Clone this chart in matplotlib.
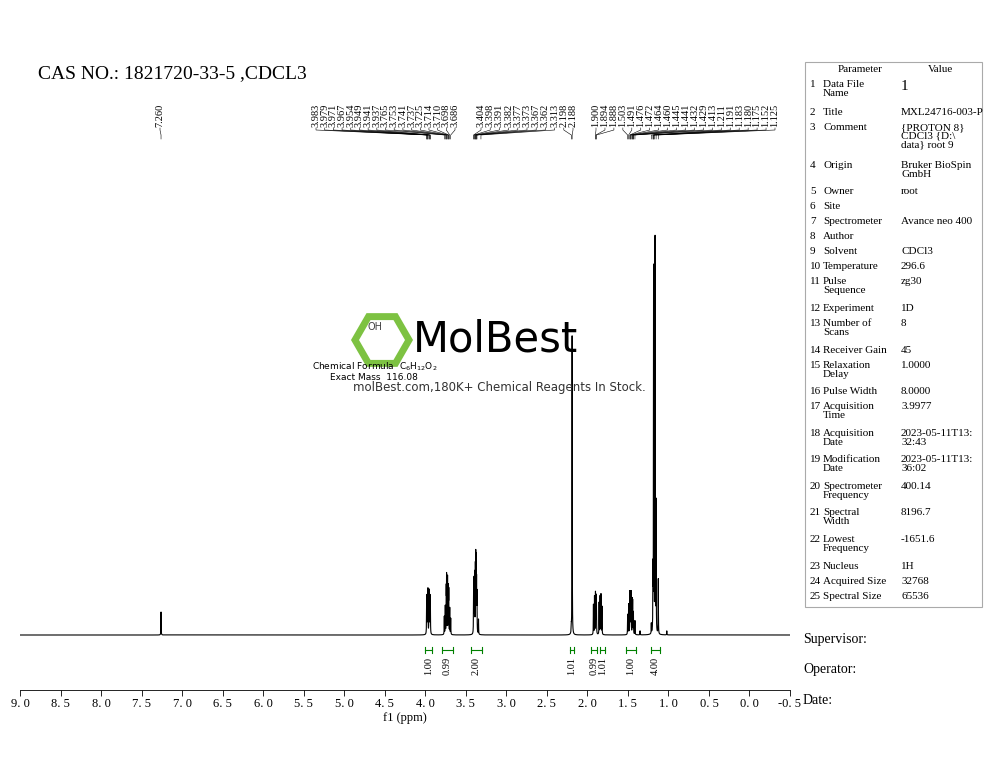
import numpy as np
import matplotlib.pyplot as plt
from matplotlib.patches import RegularPolygon, Rectangle

plt.rcParams['font.family'] = ['Liberation Serif', 'DejaVu Serif']

# peak lines (ppm, height in px above baseline)
line_ppm = [7.260,
            3.983, 3.979, 3.971, 3.967, 3.954, 3.949, 3.941, 3.937,
            3.765, 3.753, 3.741, 3.737, 3.725, 3.714, 3.710, 3.698, 3.686,
            3.404, 3.398, 3.391, 3.382, 3.377, 3.373, 3.367, 3.362, 3.343,
            2.198, 2.188,
            1.925, 1.912, 1.900, 1.894, 1.888, 1.855, 1.843, 1.832, 1.820,
            1.503, 1.491, 1.476, 1.472, 1.464, 1.460, 1.445, 1.441, 1.432, 1.413,
            1.350, 1.211, 1.191, 1.183, 1.180, 1.175, 1.165, 1.152, 1.125, 1.020]
line_h = [23,
          30, 34, 38, 40, 38, 40, 34, 30,
          18, 28, 42, 55, 57, 44, 40, 26, 16,
          38, 52, 58, 62, 68, 66, 50, 38, 15,
          6, 300,
          30, 38, 40, 36, 30, 32, 38, 40, 28,
          20, 30, 38, 36, 34, 38, 32, 30, 22, 14,
          4, 10, 60, 360, 20, 20, 395, 130, 55, 4]

# peak labels
labels_a = ['3.983', '3.979', '3.971', '3.967', '3.954', '3.949', '3.941', '3.937',
            '3.765', '3.753', '3.741', '3.737', '3.725', '3.714', '3.710', '3.698', '3.686']
labels_b = ['3.404', '3.398', '3.391', '3.382', '3.377', '3.373', '3.367', '3.362', '3.313',
            '2.198', '2.188']
labels_c = ['1.900', '1.894', '1.888', '1.503', '1.491', '1.476', '1.472', '1.464', '1.460',
            '1.445', '1.441', '1.432', '1.429', '1.413', '1.211', '1.191', '1.183', '1.180',
            '1.175', '1.152', '1.125']

# integrals: (start, end, value)
integrals = [(4.00, 3.92, '1.00'), (3.79, 3.66, '0.99'), (3.44, 3.30, '2.00'),
             (2.21, 2.17, '1.01'), (1.96, 1.88, '0.99'), (1.85, 1.78, '1.01'),
             (1.52, 1.40, '1.00'), (1.22, 1.10, '4.00')]

params = [('Data File\nName', '1'), ('Title', 'MXL24716-003-P'),
          ('Comment', '{PROTON 8}\nCDCl3 {D:\\\ndata} root 9'),
          ('Origin', 'Bruker BioSpin\nGmbH'), ('Owner', 'root'), ('Site', ''),
          ('Spectrometer', 'Avance neo 400'), ('Author', ''), ('Solvent', 'CDCl3'),
          ('Temperature', '296.6'), ('Pulse\nSequence', 'zg30'), ('Experiment', '1D'),
          ('Number of\nScans', '8'), ('Receiver Gain', '45'),
          ('Relaxation\nDelay', '1.0000'), ('Pulse Width', '8.0000'),
          ('Acquisition\nTime', '3.9977'), ('Acquisition\nDate', '2023-05-11T13:\n32:43'),
          ('Modification\nDate', '2023-05-11T13:\n36:02'),
          ('Spectrometer\nFrequency', '400.14'), ('Spectral\nWidth', '8196.7'),
          ('Lowest\nFrequency', '-1651.6'), ('Nucleus', '1H'),
          ('Acquired Size', '32768'), ('Spectral Size', '65536')]
param_y = [85, 113, 128, 166, 192, 207, 222, 237, 252, 267, 282, 309, 324, 351, 366,
           392, 407, 434, 460, 487, 513, 540, 567, 582, 597]

W, H = 1000, 773
fig = plt.figure(figsize=(10, 7.73), dpi=100)

# spectrum axes: x 20..790 px, y 200..690 px
x_left, x_right = 20, 790
ax = fig.add_axes([x_left / W, 1 - 690 / H, (x_right - x_left) / W, 490 / H])
ppm = np.linspace(-0.5, 9.0, 40000)
y = np.zeros_like(ppm)
hw = 0.0016
for p, h in zip(line_ppm, line_h):
    y += h / (1 + ((ppm - p) / hw) ** 2)
ax.plot(ppm, y, color='black', lw=0.8)
ax.set_xlim(9.0, -0.5)
ax.set_ylim(-55, 435)
for s in ['top', 'left', 'right']:
    ax.spines[s].set_visible(False)
ax.set_yticks([])
ax.set_xticks(np.arange(-0.5, 9.01, 0.5))
ax.set_xticklabels([f'{v:.1f}'.replace('.', '. ') if v >= 0 else '-0. 5'
                    for v in np.arange(-0.5, 9.01, 0.5)], fontsize=9)
ax.tick_params(axis='x', length=4, width=0.6, pad=2)
ax.spines['bottom'].set_linewidth(0.6)
ax.set_xlabel('f1 (ppm)', fontsize=9, labelpad=1)

for a, b, v in integrals:
    ax.plot([a, b], [-15, -15], color='green', lw=0.8)
    ax.plot([a, a], [-12, -18], color='green', lw=0.8)
    ax.plot([b, b], [-12, -18], color='green', lw=0.8)
    ax.text((a + b) / 2, -22, v, rotation=90, ha='center', va='top', fontsize=7.5)

# overlay axes in pixel coordinates
ov = fig.add_axes([0, 0, 1, 1])
ov.set_xlim(0, W)
ov.set_ylim(H, 0)
ov.axis('off')


def px(p):
    return x_left + (9.0 - p) / 9.5 * (x_right - x_left)


def label_group(labels, x0, x1):
    xs = np.linspace(x0, x1, len(labels))
    for lx, lab in zip(xs, labels):
        tx = px(float(lab))
        ov.text(lx, 127, lab, rotation=90, ha='center', va='bottom', fontsize=7.5)
        ov.plot([lx, lx, tx, tx], [128, 130, 135, 139], color='black', lw=0.4)


label_group(['7.260'], 160, 160)
label_group(labels_a, 316, 455)
label_group(labels_b, 481, 573)
label_group(labels_c, 596, 775)

ov.text(38, 74, 'CAS NO.: 1821720-33-5 ,CDCL3', fontsize=14, va='center')

# logo
ov.add_patch(RegularPolygon((382, 340), 6, radius=27, orientation=np.pi / 6,
                            fill=False, ec='#7dc242', lw=5))
ov.text(413, 340, 'MolBest', fontsize=30, family='DejaVu Sans', va='center',
        color='black')
ov.text(368, 330, 'OH', fontsize=7, family='DejaVu Sans', color='#444444')
ov.text(312, 367, 'Chemical Formula  C$_6$H$_{12}$O$_2$', fontsize=6.5,
        family='DejaVu Sans', va='center')
ov.text(330, 378, 'Exact Mass  116.08', fontsize=6.5, family='DejaVu Sans', va='center')
ov.text(353, 388, 'molBest.com,180K+ Chemical Reagents In Stock.', fontsize=8.5,
        family='DejaVu Sans', va='center', color='#333333')

# parameter table
ov.add_patch(Rectangle((805, 62), 177, 545, fill=False, ec='#aaaaaa', lw=0.8))
ov.text(860, 70, 'Parameter', fontsize=8, ha='center', va='center')
ov.text(940, 70, 'Value', fontsize=8, ha='center', va='center')
for i, ((name, val), yy) in enumerate(zip(params, param_y)):
    ov.text(810, yy - 5, f'{i + 1}', fontsize=8, va='top')
    ov.text(823, yy - 5, name, fontsize=8, va='top', linespacing=0.95)
    ov.text(901, yy - 5, val, fontsize=8 if i else 11, va='top', linespacing=0.95)

ov.text(803, 639, 'Supervisor:', fontsize=10, va='center')
ov.text(803, 670, 'Operator:', fontsize=10, va='center')
ov.text(803, 701, 'Date:', fontsize=10, va='center')

fig.savefig('out.png', dpi=100)
